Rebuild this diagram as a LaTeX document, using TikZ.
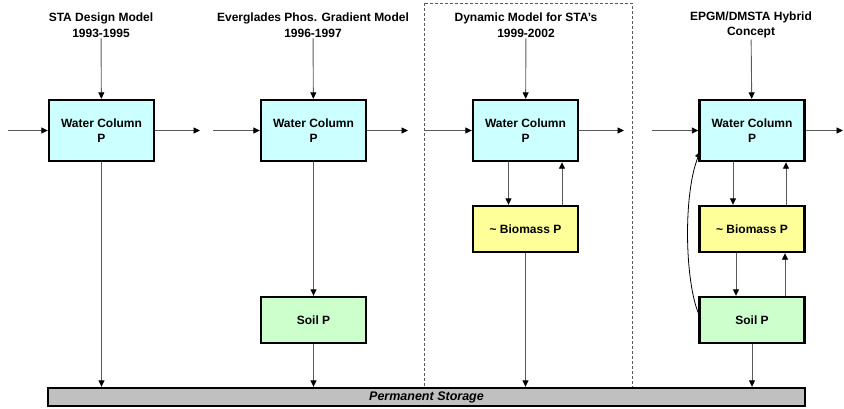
\documentclass[tikz,border=0pt]{standalone}
\usepackage{fontspec}
\setmainfont{Liberation Sans}
\usepackage{tikz}
\usetikzlibrary{arrows.meta,positioning,calc}
\definecolor{eau}{RGB}{204,255,255}
\definecolor{biom}{RGB}{255,255,153}
\definecolor{sol}{RGB}{204,255,204}
\definecolor{stock}{RGB}{192,192,192}
\definecolor{trait}{RGB}{90,90,90}

\begin{document}
\begin{tikzpicture}[x=1pt, y=-1pt,
    every node/.style={font=\fontsize{12}{15.5}\selectfont\bfseries},
    titre/.style={align=center, inner sep=1pt},
    bigbox/.style={draw, line width=2.4pt, fill=eau, minimum width=105, minimum height=61, align=center},
    smallbox/.style={draw, line width=2.4pt, minimum width=105, minimum height=46},
    flux/.style={trait, line width=0.9pt, -{Triangle[length=6.5pt,width=6pt,color=black]}}]
    \useasboundingbox (0,0) rectangle (844,408);
    % dashed frame around the dynamic model
    \draw[trait, line width=1pt, dash pattern=on 3pt off 2pt] (424,3) rectangle (632,387);
    % titles
    \node[titre] (t1) at (101,25) {STA Design Model\\1993-1995};
    \node[titre] (t2) at (313,25) {Everglades Phos. Gradient Model\\1996-1997};
    \node[titre] (t3) at (526,25) {Dynamic Model for STA's\\1999-2002};
    \node[titre] (t4) at (751,25) {EPGM/DMSTA Hybrid\\Concept};
    % water column boxes
    \node[bigbox] (wc1) at (101.5,130.5) {Water Column\\P};
    \node[bigbox] (wc2) at (313.5,130.5) {Water Column\\P};
    \node[bigbox] (wc3) at (525.5,130.5) {Water Column\\P};
    \node[bigbox] (wc4) at (752,130.5) {Water Column\\P};
    % biomass and soil
    \node[smallbox, fill=biom] (bio3) at (525.5,229) {\textasciitilde{} Biomass P};
    \node[smallbox, fill=biom] (bio4) at (752,229) {\textasciitilde{} Biomass P};
    \node[smallbox, fill=sol] (soil2) at (313.5,320) {Soil P};
    \node[smallbox, fill=sol] (soil4) at (752,320) {Soil P};
    % storage bar
    \node[draw, line width=2.4pt, fill=stock, minimum width=757, minimum height=17,
          font=\fontsize{12.5}{14}\selectfont\bfseries\itshape] (store) at (426.5,397) {Permanent Storage};
    % inflows and outflows
    \coordinate (in1) at (8,130.5);   \coordinate (out1) at (200,130.5);
    \coordinate (in2) at (213,130.5); \coordinate (out2) at (408,130.5);
    \coordinate (in3) at (425,130.5); \coordinate (out3) at (624,130.5);
    \coordinate (in4) at (652,130.5); \coordinate (out4) at (843,130.5);
    \foreach \i in {1,2,3,4} {
      \draw[flux] (in\i) -- (wc\i);
      \draw[flux] (wc\i) -- (out\i);
      \draw[flux] (t\i) -- (wc\i);
    }
    % model 1
    \draw[flux] (wc1) -- (wc1 |- store.north);
    % model 2
    \draw[flux] (wc2) -- (soil2);
    \draw[flux] (soil2) -- (soil2 |- store.north);
    % model 3
    \draw[flux] ([xshift=-17pt]wc3.south) -- ([xshift=-17pt]bio3.north);
    \draw[flux] ([xshift=36.5pt]bio3.north) -- ([xshift=36.5pt]wc3.south);
    \draw[flux] (bio3) -- (bio3 |- store.north);
    % model 4
    \draw[flux] ([xshift=-19pt]wc4.south) -- ([xshift=-19pt]bio4.north);
    \draw[flux] ([xshift=34pt]bio4.north) -- ([xshift=34pt]wc4.south);
    \draw[flux] ([xshift=-16pt]bio4.south) -- ([xshift=-16pt]soil4.north);
    \draw[flux] ([xshift=33pt]soil4.north) -- ([xshift=33pt]bio4.south);
    \draw[flux] (soil4) -- (soil4 |- store.north);
    \draw[black, line width=0.8pt, -{Triangle[length=6.5pt,width=6pt]}]
      ([yshift=7pt]soil4.west) .. controls (685,280) and (683,195) .. ([xshift=2pt,yshift=11pt]wc4.south west);
\end{tikzpicture}
\end{document}
